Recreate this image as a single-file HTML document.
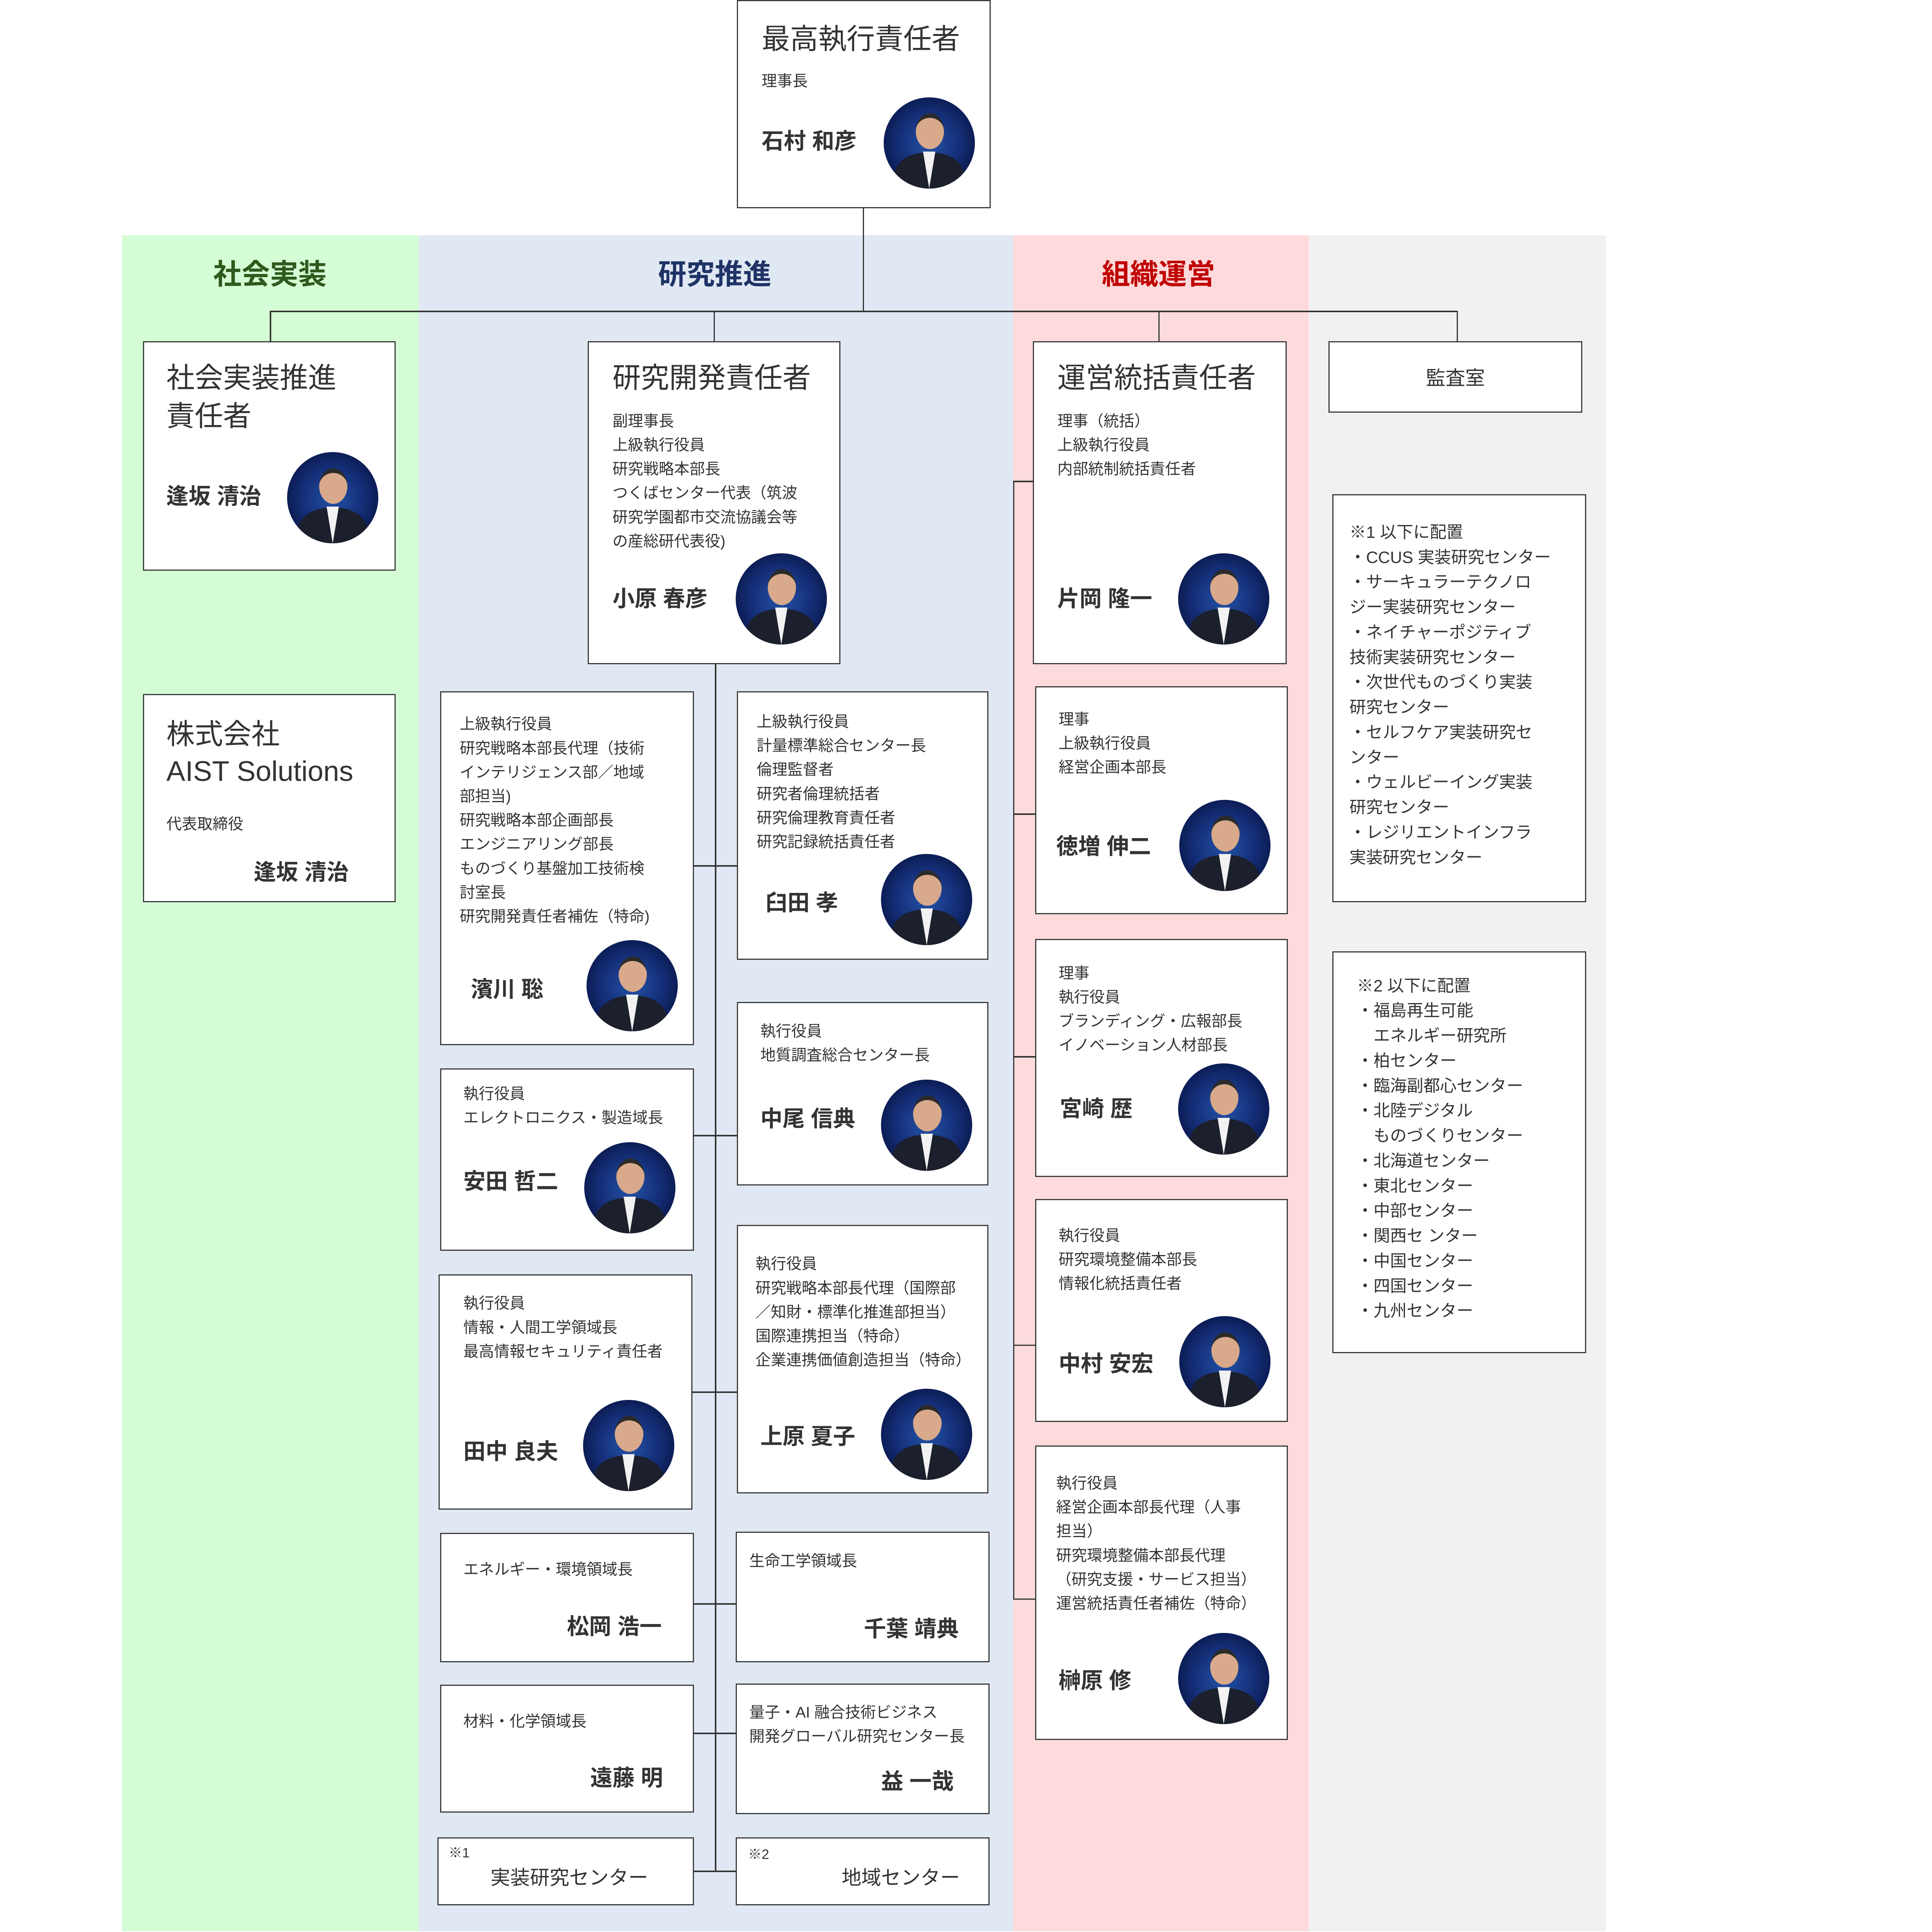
<!DOCTYPE html>
<html><head><meta charset="utf-8"><style>
html,body{margin:0;padding:0;background:#fff;width:5109px;height:5400px;overflow:hidden;}
body{position:relative;}
#s{position:absolute;left:0;top:0;width:1483px;height:1567px;zoom:3.1893;overflow:hidden;font-family:"Liberation Sans","Noto Sans CJK JP",sans-serif;color:#333;}
.a{position:absolute;}
.b{position:absolute;background:#fff;border:1.2px solid #3a3a3a;box-sizing:border-box;}
.t{position:absolute;white-space:nowrap;font-size:12.5px;line-height:19.5px;}
.ti{position:absolute;white-space:nowrap;font-size:23px;line-height:30px;}
.n{position:absolute;white-space:nowrap;font-size:18px;line-height:24px;font-weight:bold;}
.ln{position:absolute;background:#333;}
.p{position:absolute;width:74px;height:74px;border-radius:50%;background:radial-gradient(circle at 50% 50%,#2453a8 0%,#15307a 45%,#0b1a50 75%);overflow:hidden;}
.p .h{position:absolute;left:26px;top:13px;width:23px;height:29px;border-radius:50%;background:#d8a98b;border-top:4px solid #2a2a2a;box-sizing:border-box;}
.p .s{position:absolute;left:9px;top:45px;width:56px;height:40px;border-radius:45% 45% 0 0;background:#1c1f2c;}
.p .c{position:absolute;left:32px;top:44px;width:10px;height:30px;background:#f2f2f2;clip-path:polygon(0 0,100% 0,50% 100%);}
.hd{position:absolute;font-size:23px;font-weight:bold;line-height:30px;white-space:nowrap;width:200px;text-align:center;}
.nt{position:absolute;white-space:nowrap;font-size:13.5px;line-height:20.3px;}
</style></head><body><div id="s">

<div class="a" style="left:99px;top:191px;width:241px;height:1377px;background:#d5fdd5"></div>
<div class="a" style="left:340px;top:191px;width:482px;height:1377px;background:#e0e8f3"></div>
<div class="a" style="left:822px;top:191px;width:240px;height:1377px;background:#fddadb"></div>
<div class="a" style="left:1062px;top:191px;width:241px;height:1377px;background:#f1f1f1"></div>

<div class="hd" style="left:119px;top:208px;color:#2e5a1e">社会実装</div>
<div class="hd" style="left:480px;top:208px;color:#1f3366">研究推進</div>
<div class="hd" style="left:840px;top:208px;color:#c00000">組織運営</div>

<div class="ln" style="left:700px;top:168px;width:1px;height:85px"></div>
<div class="ln" style="left:219px;top:252px;width:964px;height:1.3px"></div>
<div class="ln" style="left:219px;top:252px;width:1px;height:25px"></div>
<div class="ln" style="left:579px;top:252px;width:1px;height:25px"></div>
<div class="ln" style="left:940px;top:252px;width:1px;height:25px"></div>
<div class="ln" style="left:1182px;top:252px;width:1px;height:25px"></div>

<div class="ln" style="left:580px;top:538px;width:1.2px;height:981px"></div>
<div class="ln" style="left:562px;top:702px;width:36px;height:1.2px"></div>
<div class="ln" style="left:562px;top:921px;width:36px;height:1.2px"></div>
<div class="ln" style="left:562px;top:1129px;width:36px;height:1.2px"></div>
<div class="ln" style="left:562px;top:1301px;width:36px;height:1.2px"></div>
<div class="ln" style="left:562px;top:1406px;width:36px;height:1.2px"></div>
<div class="ln" style="left:562px;top:1518px;width:36px;height:1.2px"></div>

<div class="ln" style="left:822px;top:390px;width:1.2px;height:908px"></div>
<div class="ln" style="left:822px;top:390px;width:17px;height:1.2px"></div>
<div class="ln" style="left:822px;top:660px;width:18px;height:1.2px"></div>
<div class="ln" style="left:822px;top:857px;width:18px;height:1.2px"></div>
<div class="ln" style="left:822px;top:1091px;width:18px;height:1.2px"></div>
<div class="ln" style="left:822px;top:1297px;width:18px;height:1.2px"></div>

<div class="b" style="left:598px;top:0;width:206px;height:169px"></div>
<div class="ti" style="left:618px;top:17px">最高執行責任者</div>
<div class="t" style="left:618px;top:56px">理事長</div>
<div class="n" style="left:618px;top:103px">石村 和彦</div>
<div class="p" style="left:717px;top:79px"><div class="s"></div><div class="c"></div><div class="h"></div></div>

<div class="b" style="left:116px;top:277px;width:205px;height:186px"></div>
<div class="ti" style="left:135px;top:292px">社会実装推進</div>
<div class="ti" style="left:135px;top:323px">責任者</div>
<div class="n" style="left:135px;top:391px">逢坂 清治</div>
<div class="p" style="left:233px;top:367px"><div class="s"></div><div class="c"></div><div class="h"></div></div>

<div class="b" style="left:116px;top:563px;width:205px;height:169px"></div>
<div class="ti" style="left:135px;top:581px">株式会社</div>
<div class="ti" style="left:135px;top:611px">AIST Solutions</div>
<div class="t" style="left:135px;top:659px">代表取締役</div>
<div class="n" style="left:206px;top:696px">逢坂 清治</div>

<div class="b" style="left:477px;top:277px;width:205px;height:262px"></div>
<div class="ti" style="left:497px;top:292px">研究開発責任者</div>
<div class="t" style="left:497px;top:332px">副理事長<br>上級執行役員<br>研究戦略本部長<br>つくばセンター代表（筑波<br>研究学園都市交流協議会等<br>の産総研代表役)</div>
<div class="n" style="left:497px;top:474px">小原 春彦</div>
<div class="p" style="left:597px;top:449px"><div class="s"></div><div class="c"></div><div class="h"></div></div>

<div class="b" style="left:838px;top:277px;width:206px;height:262px"></div>
<div class="ti" style="left:858px;top:292px">運営統括責任者</div>
<div class="t" style="left:858px;top:332px">理事（統括）<br>上級執行役員<br>内部統制統括責任者</div>
<div class="n" style="left:858px;top:474px">片岡 隆一</div>
<div class="p" style="left:956px;top:449px"><div class="s"></div><div class="c"></div><div class="h"></div></div>

<div class="b" style="left:1078px;top:277px;width:206px;height:58px"></div>
<div class="a" style="left:1078px;top:295px;width:206px;text-align:center;font-size:16px;line-height:24px">監査室</div>

<div class="b" style="left:1081px;top:401px;width:206px;height:331px"></div>
<div class="nt" style="left:1095px;top:422px">※1 以下に配置<br>・CCUS 実装研究センター<br>・サーキュラーテクノロ<br>ジー実装研究センター<br>・ネイチャーポジティブ<br>技術実装研究センター<br>・次世代ものづくり実装<br>研究センター<br>・セルフケア実装研究セ<br>ンター<br>・ウェルビーイング実装<br>研究センター<br>・レジリエントインフラ<br>実装研究センター</div>

<div class="b" style="left:1081px;top:772px;width:206px;height:326px"></div>
<div class="nt" style="left:1101px;top:790px">※2 以下に配置<br>・福島再生可能<br>　エネルギー研究所<br>・柏センター<br>・臨海副都心センター<br>・北陸デジタル<br>　ものづくりセンター<br>・北海道センター<br>・東北センター<br>・中部センター<br>・関西セ ンター<br>・中国センター<br>・四国センター<br>・九州センター</div>

<div class="b" style="left:357px;top:561px;width:206px;height:287px"></div>
<div class="t" style="left:373px;top:578px">上級執行役員<br>研究戦略本部長代理（技術<br>インテリジェンス部／地域<br>部担当)<br>研究戦略本部企画部長<br>エンジニアリング部長<br>ものづくり基盤加工技術検<br>討室長<br>研究開発責任者補佐（特命)</div>
<div class="n" style="left:382px;top:791px">濱川 聡</div>
<div class="p" style="left:476px;top:763px"><div class="s"></div><div class="c"></div><div class="h"></div></div>

<div class="b" style="left:357px;top:867px;width:206px;height:148px"></div>
<div class="t" style="left:376px;top:878px">執行役員<br>エレクトロニクス・製造域長</div>
<div class="n" style="left:376px;top:947px">安田 哲二</div>
<div class="p" style="left:474px;top:927px"><div class="s"></div><div class="c"></div><div class="h"></div></div>

<div class="b" style="left:356px;top:1034px;width:206px;height:191px"></div>
<div class="t" style="left:376px;top:1048px">執行役員<br>情報・人間工学領域長<br>最高情報セキュリティ責任者</div>
<div class="n" style="left:376px;top:1166px">田中 良夫</div>
<div class="p" style="left:473px;top:1136px"><div class="s"></div><div class="c"></div><div class="h"></div></div>

<div class="b" style="left:357px;top:1244px;width:206px;height:105px"></div>
<div class="t" style="left:376px;top:1264px">エネルギー・環境領域長</div>
<div class="n" style="left:460px;top:1308px">松岡 浩一</div>

<div class="b" style="left:357px;top:1367px;width:206px;height:104px"></div>
<div class="t" style="left:376px;top:1387px">材料・化学領域長</div>
<div class="n" style="left:479px;top:1431px">遠藤 明</div>

<div class="b" style="left:355px;top:1491px;width:208px;height:55px"></div>
<div class="a" style="left:364px;top:1497px;font-size:11px;line-height:14px">※1</div>
<div class="a" style="left:398px;top:1512px;font-size:16px;line-height:24px;white-space:nowrap">実装研究センター</div>

<div class="b" style="left:598px;top:561px;width:204px;height:218px"></div>
<div class="t" style="left:614px;top:576px">上級執行役員<br>計量標準総合センター長<br>倫理監督者<br>研究者倫理統括者<br>研究倫理教育責任者<br>研究記録統括責任者</div>
<div class="n" style="left:621px;top:721px">臼田 孝</div>
<div class="p" style="left:715px;top:693px"><div class="s"></div><div class="c"></div><div class="h"></div></div>

<div class="b" style="left:598px;top:813px;width:204px;height:149px"></div>
<div class="t" style="left:617px;top:827px">執行役員<br>地質調査総合センター長</div>
<div class="n" style="left:617px;top:896px">中尾 信典</div>
<div class="p" style="left:715px;top:876px"><div class="s"></div><div class="c"></div><div class="h"></div></div>

<div class="b" style="left:598px;top:994px;width:204px;height:218px"></div>
<div class="t" style="left:613px;top:1016px">執行役員<br>研究戦略本部長代理（国際部<br>／知財・標準化推進部担当）<br>国際連携担当（特命）<br>企業連携価値創造担当（特命）</div>
<div class="n" style="left:617px;top:1154px">上原 夏子</div>
<div class="p" style="left:715px;top:1127px"><div class="s"></div><div class="c"></div><div class="h"></div></div>

<div class="b" style="left:597px;top:1243px;width:206px;height:106px"></div>
<div class="t" style="left:608px;top:1257px">生命工学領域長</div>
<div class="n" style="left:701px;top:1310px">千葉 靖典</div>

<div class="b" style="left:597px;top:1366px;width:206px;height:106px"></div>
<div class="t" style="left:608px;top:1380px">量子・AI 融合技術ビジネス<br>開発グローバル研究センター長</div>
<div class="n" style="left:715px;top:1434px">益 一哉</div>

<div class="b" style="left:597px;top:1491px;width:206px;height:55px"></div>
<div class="a" style="left:607px;top:1498px;font-size:11px;line-height:14px">※2</div>
<div class="a" style="left:683px;top:1512px;font-size:16px;line-height:24px;white-space:nowrap">地域センター</div>

<div class="b" style="left:840px;top:557px;width:205px;height:185px"></div>
<div class="t" style="left:859px;top:574px">理事<br>上級執行役員<br>経営企画本部長</div>
<div class="n" style="left:857px;top:675px">徳増 伸二</div>
<div class="p" style="left:957px;top:649px"><div class="s"></div><div class="c"></div><div class="h"></div></div>

<div class="b" style="left:840px;top:762px;width:205px;height:193px"></div>
<div class="t" style="left:859px;top:780px">理事<br>執行役員<br>ブランディング・広報部長<br>イノベーション人材部長</div>
<div class="n" style="left:860px;top:888px">宮崎 歴</div>
<div class="p" style="left:956px;top:863px"><div class="s"></div><div class="c"></div><div class="h"></div></div>

<div class="b" style="left:840px;top:973px;width:205px;height:181px"></div>
<div class="t" style="left:859px;top:993px">執行役員<br>研究環境整備本部長<br>情報化統括責任者</div>
<div class="n" style="left:859px;top:1095px">中村 安宏</div>
<div class="p" style="left:957px;top:1068px"><div class="s"></div><div class="c"></div><div class="h"></div></div>

<div class="b" style="left:840px;top:1173px;width:205px;height:239px"></div>
<div class="t" style="left:857px;top:1194px">執行役員<br>経営企画本部長代理（人事<br>担当）<br>研究環境整備本部長代理<br>（研究支援・サービス担当）<br>運営統括責任者補佐（特命）</div>
<div class="n" style="left:859px;top:1352px">榊原 修</div>
<div class="p" style="left:956px;top:1325px"><div class="s"></div><div class="c"></div><div class="h"></div></div>

</div></body></html>
